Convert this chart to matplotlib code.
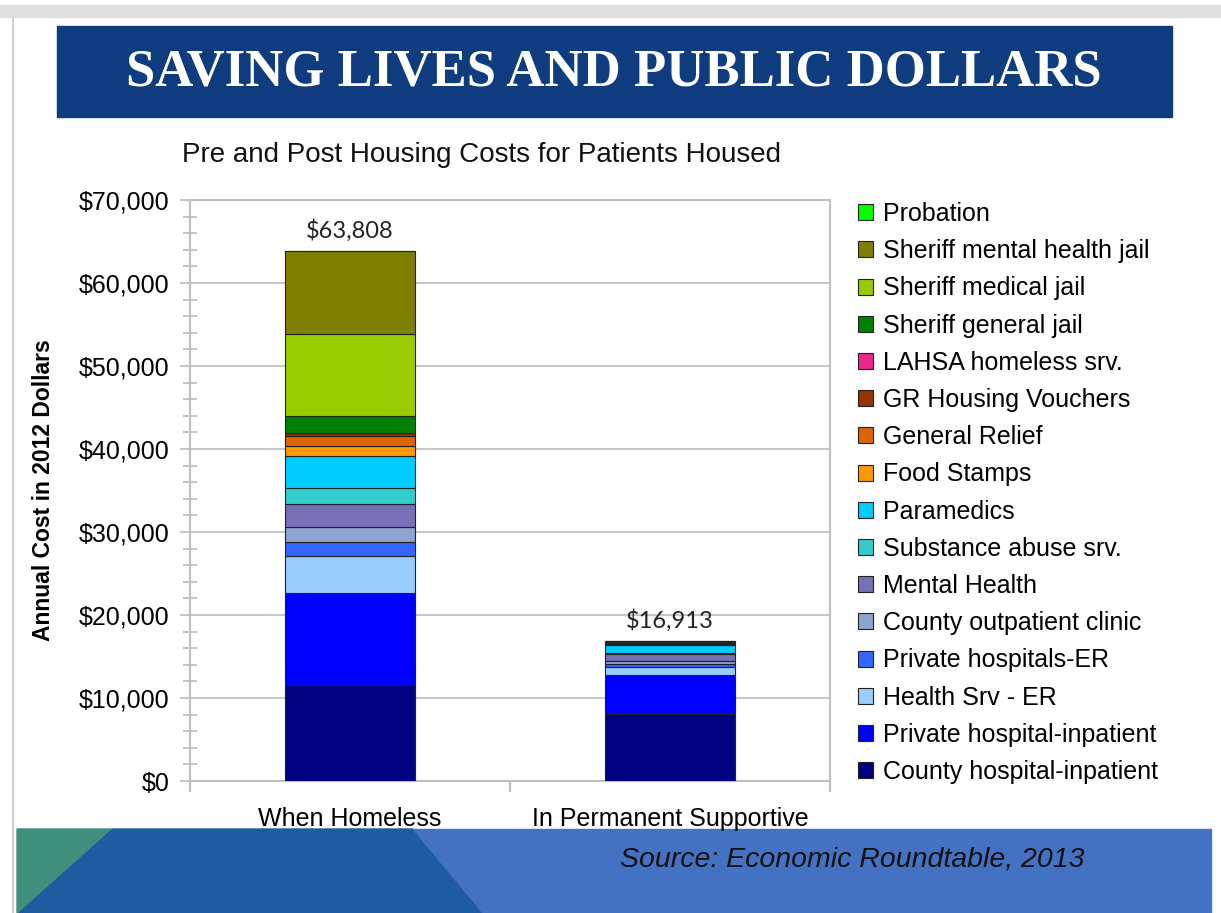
import matplotlib.pyplot as plt
from matplotlib.patches import Rectangle, Polygon
from matplotlib.ticker import MultipleLocator, FuncFormatter

# bar groups and cost categories (bottom of the stack first)
groups = ['When Homeless', 'In Permanent Supportive']
categories = ['County hospital-inpatient', 'Private hospital-inpatient', 'Health Srv - ER',
              'Private hospitals-ER', 'County outpatient clinic', 'Mental Health',
              'Substance abuse srv.', 'Paramedics', 'Food Stamps', 'General Relief',
              'GR Housing Vouchers', 'LAHSA homeless srv.', 'Sheriff general jail',
              'Sheriff medical jail', 'Sheriff mental health jail', 'Probation']
homeless = [11570, 11050, 4455, 1725, 1840, 2740, 1890, 3930, 1200, 1170,
            330, 0, 2120, 9850, 9938, 0]
housed = [8110, 4660, 1000, 290, 400, 800, 200, 890, 150, 100,
          0, 100, 100, 60, 53, 0]
colors = ['#000080', '#0000FF', '#99CCFF', '#3366FF', '#8EA3CF', '#7670B6',
          '#33CCCC', '#00CCFF', '#FF9900', '#DD6600', '#993300', '#E8288E',
          '#008000', '#99CC00', '#808000', '#00FF00']
totals = [63808, 16913]

W, H = 1221, 913
fig = plt.figure(figsize=(W / 100, H / 100), dpi=100)

# slide background drawn in pixel coordinates
bg = fig.add_axes([0, 0, 1, 1], zorder=-1)
bg.set_xlim(0, W)
bg.set_ylim(H, 0)
bg.axis('off')
bg.add_patch(Rectangle((0, 5), W, 12, color='#E0E0E0'))
bg.plot([13, 13], [17, H], color='#D0D0D0', lw=1.5)
bg.add_patch(Rectangle((57, 26), 1115, 91, color='#0F3B7F'))
bg.text(614, 72, 'SAVING LIVES AND PUBLIC DOLLARS', color='white', fontsize=38,
        fontweight='bold', family='Liberation Serif', ha='center', va='center')
bg.text(182, 155, 'Pre and Post Housing Costs for Patients Housed', fontsize=20,
        family='Liberation Sans', ha='left', va='center', color='#111111')
bg.add_patch(Polygon([(17, 829), (113, 829), (19, H), (17, H)], color='#3F8F7D'))
bg.add_patch(Polygon([(113, 829), (413, 829), (483, H), (19, H)], color='#1F5BA0'))
bg.add_patch(Polygon([(413, 829), (1211, 829), (1211, H), (483, H)], color='#4472C3'))
bg.text(852, 860, 'Source: Economic Roundtable, 2013', fontsize=20.5, style='italic',
        family='Liberation Sans', ha='center', va='center', color='#111111')

ax = fig.add_axes([190 / W, (H - 781) / H, 640 / W, 581 / H])
x = range(len(groups))
bottoms = [0, 0]
handles = []
for cat, a, b, c in zip(categories, homeless, housed, colors):
    bars = ax.bar(x, [a, b], bottom=bottoms, width=0.405, color=c,
                  edgecolor='#222222', linewidth=0.8, label=cat, zorder=3)
    handles.append(bars)
    bottoms = [bottoms[0] + a, bottoms[1] + b]

for i, t in enumerate(totals):
    ax.text(i, t + 1100, '${:,}'.format(t), ha='center', va='bottom',
            fontsize=17, family='Lato', color='#222222')

ax.set_xlim(-0.5, 1.5)
ax.set_ylim(0, 70000)
ax.yaxis.set_major_locator(MultipleLocator(10000))
ax.yaxis.set_minor_locator(MultipleLocator(2000))
ax.yaxis.set_major_formatter(FuncFormatter(lambda v, p: '${:,.0f}'.format(v)))
ax.grid(axis='y', color='#C8C8C8', lw=1.5, zorder=0)
ax.set_xticks([0, 1])
ax.set_xticklabels(groups, fontsize=18, family='Liberation Sans')
ax.set_xticks([-0.5, 0.5, 1.5], minor=True)
ax.tick_params(axis='x', which='major', length=0, pad=19)
ax.tick_params(axis='x', which='minor', length=8, color='#BBBBBB', width=1.5)
ax.tick_params(axis='y', which='major', length=7, color='#C8C8C8', width=1.5,
               labelsize=18, pad=8)
ax.tick_params(axis='y', which='minor', length=10, direction='inout',
               color='#BBBBBB', width=1.2)
for lab in ax.get_yticklabels():
    lab.set_family('Liberation Sans')
for s in ax.spines.values():
    s.set_color('#C0C0C0')
    s.set_linewidth(1.5)
ax.set_ylabel('Annual Cost in 2012 Dollars', fontsize=16.5, fontweight='bold',
              family='Liberation Sans', labelpad=17)

fig.legend(handles[::-1], categories[::-1], loc='upper left',
           bbox_to_anchor=(848 / W, 1 - 192 / H), frameon=False,
           prop={'family': 'Liberation Sans', 'size': 18},
           handlelength=0.6, handleheight=0.6, handletextpad=0.4,
           labelspacing=0.528, borderaxespad=0)

fig.savefig('out.png', dpi=100)
